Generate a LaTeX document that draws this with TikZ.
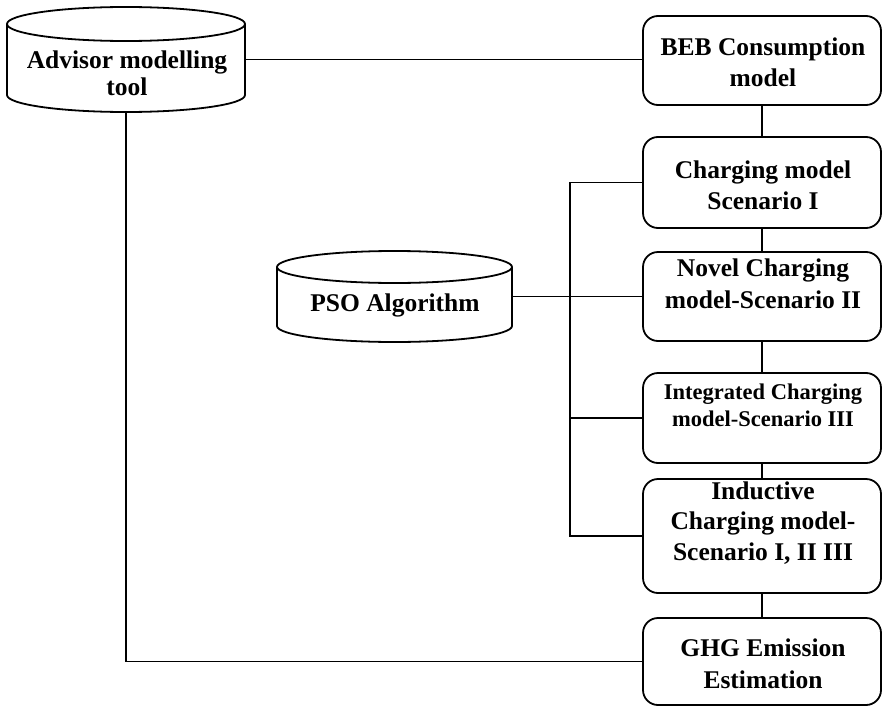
\documentclass[tikz,border=0pt]{standalone}
\usepackage{fontspec}
\setmainfont{Liberation Serif}
\begin{document}
\begin{tikzpicture}[x=1pt,y=-1pt,line width=1.8pt,
  box/.style={draw,rounded corners=15pt,minimum width=238pt,inner sep=0pt},
  ghost/.style={draw=none,inner sep=0pt},
  lbl/.style={align=center,inner sep=0pt,font=\fontsize{25.5}{31}\selectfont\bfseries},
  lblsmall/.style={align=center,inner sep=0pt,font=\fontsize{22.5}{27}\selectfont\bfseries}]
\useasboundingbox (0,0) rectangle (882,706);

% cylinders (anchor nodes + drawn outline)
\node[ghost,minimum width=238pt,minimum height=105pt] (adv) at (126,59.5) {};
\draw (126,24) ellipse [x radius=119,y radius=17];
\draw (7,24) -- (7,95) arc[start angle=180,end angle=0,x radius=119,y radius=17] -- (245,24);
\node[lbl,font=\fontsize{25.5}{27}\selectfont\bfseries] (advT) at (127,73.5) {Advisor modelling\\tool};

\node[ghost,minimum width=235pt,minimum height=91pt] (pso) at (394.5,296.5) {};
\draw (394.5,267) ellipse [x radius=117.5,y radius=16];
\draw (277,267) -- (277,326) arc[start angle=180,end angle=0,x radius=117.5,y radius=16] -- (512,267);
\node[lbl] (psoT) at (395,305) {PSO Algorithm};

% boxes
\node[box,minimum height=89pt]  (beb)    at (762,60.5)  {};
\node[box,minimum height=91pt]  (c1)     at (762,182.5) {};
\node[box,minimum height=89pt]  (novel)  at (762,296.5) {};
\node[box,minimum height=90pt]  (integ)  at (762,418)   {};
\node[box,minimum height=114pt] (induct) at (762,536)   {};
\node[box,minimum height=87pt]  (ghg)    at (762,661.5) {};

\node[lbl] (bebT) at (763,62.5) {BEB Consumption\\model};
\node[lbl] (c1T) at (763,185) {Charging model\\Scenario I};
\node[lbl,font=\fontsize{25.5}{32}\selectfont\bfseries] (novelT) at (763,284) {Novel Charging\\model-Scenario II};
\node[lblsmall] (integT) at (763,405.5) {Integrated Charging\\model-Scenario III};
\node[lbl,font=\fontsize{25.5}{30.5}\selectfont\bfseries] (inductT) at (763,523) {Inductive\\Charging model-\\Scenario I, II III};
\node[lbl,font=\fontsize{25.5}{32}\selectfont\bfseries] (ghgT) at (763,664) {GHG Emission\\Estimation};

% connectors
\draw (adv.east) -- (adv.east -| beb.west);
\draw (beb.south) -- (c1.north);
\draw (c1.south) -- (novel.north);
\draw (novel.south) -- (integ.north);
\draw (integ.south) -- (induct.north);
\draw (induct.south) -- (ghg.north);
\draw (adv.south) |- (ghg.west);
\draw (pso.east) -- (pso.east -| novel.west);
\draw (c1.west) -- ++(-72,0) |- (induct.west);
\draw (integ.west) -- ++(-72,0);
\end{tikzpicture}
\end{document}
